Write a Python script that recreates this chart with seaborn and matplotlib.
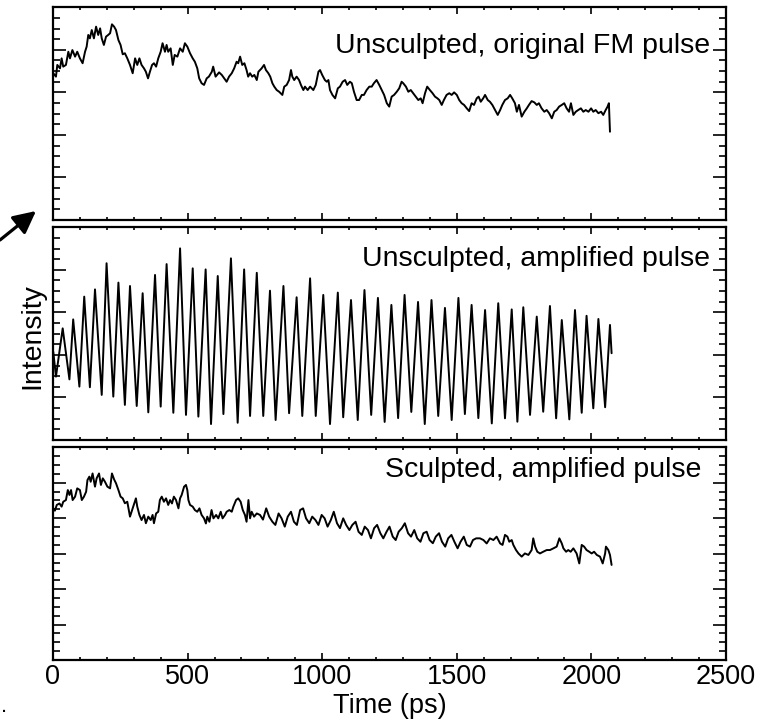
import matplotlib
matplotlib.use('Agg')
import numpy as np
import pandas as pd
import matplotlib.pyplot as plt
from matplotlib.ticker import MultipleLocator, FixedLocator, NullFormatter
import seaborn as sns

# --
# Data (time in ps, intensity in arbitrary units)

top_t = [1, 11, 16, 26, 32, 38, 48, 57, 63, 72,
         82, 90, 100, 110, 119, 125, 131, 137, 144, 152,
         160, 168, 175, 181, 189, 197, 205, 212, 219, 227,
         234, 243, 251, 259, 267, 276, 286, 296, 305, 313,
         321, 329, 338, 345, 353, 360, 368, 375, 383, 391,
         400, 407, 416, 422, 428, 437, 445, 452, 462, 472,
         482, 490, 499, 509, 519, 527, 536, 543, 552, 561,
         571, 579, 590, 595, 604, 617, 627, 636, 645, 654,
         664, 673, 682, 688, 695, 703, 711, 719, 725, 732,
         740, 748, 757, 763, 769, 775, 784, 791, 800, 807,
         815, 822, 831, 840, 852, 859, 868, 877, 884, 889,
         896, 905, 914, 921, 930, 936, 946, 955, 967, 976,
         986, 992, 1000, 1010, 1017, 1023, 1029, 1038, 1048, 1058,
         1066, 1076, 1085, 1093, 1103, 1110, 1118, 1128, 1137, 1147,
         1155, 1165, 1175, 1184, 1192, 1202, 1212, 1221, 1230, 1240,
         1249, 1258, 1267, 1277, 1286, 1295, 1301, 1311, 1320, 1329,
         1338, 1348, 1357, 1366, 1373, 1382, 1390, 1400, 1410, 1419,
         1428, 1435, 1444, 1452, 1462, 1472, 1481, 1490, 1500, 1509,
         1518, 1527, 1537, 1546, 1555, 1564, 1574, 1581, 1589, 1598,
         1605, 1615, 1623, 1632, 1642, 1652, 1661, 1669, 1679, 1689,
         1698, 1706, 1716, 1723, 1731, 1741, 1751, 1760, 1768, 1778,
         1788, 1797, 1805, 1815, 1825, 1834, 1843, 1853, 1862, 1871,
         1880, 1890, 1899, 1908, 1917, 1924, 1933, 1942, 1951, 1961,
         1970, 1979, 1989, 1999, 2007, 2016, 2026, 2036, 2044, 2053,
         2060, 2065, 2069]
top_i = [69.0, 67.4, 72.9, 71.3, 76.0, 72.1, 72.9, 79.1, 76.0, 79.9,
         76.8, 79.1, 76.0, 73.7, 79.1, 81.5, 87.0, 85.4, 89.3, 85.4,
         90.9, 87.0, 90.1, 85.4, 82.3, 86.2, 87.0, 87.8, 92.0, 90.9,
         89.3, 84.6, 82.3, 77.9, 78.4, 76.0, 72.9, 69.0, 76.0, 72.9,
         76.0, 72.9, 71.3, 69.7, 66.6, 69.7, 72.9, 73.7, 72.1, 76.0,
         79.1, 83.1, 79.1, 82.3, 79.1, 80.7, 72.9, 77.6, 76.8, 80.7,
         79.1, 83.1, 81.5, 78.4, 76.0, 74.4, 71.3, 66.6, 64.3, 63.5,
         66.6, 67.4, 69.7, 72.1, 67.4, 69.4, 68.2, 66.6, 65.0, 67.4,
         69.0, 71.3, 74.4, 73.7, 76.8, 72.9, 73.7, 70.5, 67.4, 69.0,
         67.4, 68.2, 65.8, 69.7, 70.5, 71.3, 72.9, 70.5, 69.0, 67.4,
         64.3, 62.7, 61.1, 60.3, 58.8, 62.7, 63.5, 65.8, 70.5, 67.4,
         65.8, 67.4, 65.8, 63.5, 61.1, 62.7, 61.1, 62.7, 61.1, 63.5,
         69.7, 70.5, 68.2, 65.8, 65.0, 65.8, 61.1, 58.8, 57.2, 61.9,
         62.7, 65.0, 65.8, 63.5, 65.0, 64.3, 60.3, 56.4, 56.4, 58.8,
         58.8, 61.1, 62.7, 62.7, 64.3, 65.8, 63.5, 61.1, 58.8, 54.9,
         53.3, 58.0, 58.8, 60.3, 61.9, 65.0, 64.3, 62.7, 60.3, 61.1,
         59.6, 58.0, 56.4, 57.2, 54.9, 59.6, 62.7, 61.1, 59.6, 58.0,
         57.2, 56.4, 54.1, 56.4, 58.8, 59.6, 58.8, 60.0, 58.8, 56.4,
         54.9, 54.1, 52.5, 51.2, 54.9, 54.1, 57.2, 58.0, 55.6, 57.2,
         58.8, 56.4, 55.6, 54.1, 51.7, 49.4, 51.7, 54.1, 56.4, 57.2,
         58.8, 57.2, 54.9, 50.9, 54.1, 48.6, 50.9, 52.5, 54.1, 55.9,
         55.3, 54.1, 54.9, 52.5, 50.9, 51.7, 50.2, 47.8, 50.9, 51.7,
         53.3, 54.1, 54.9, 52.5, 50.9, 54.9, 49.4, 50.9, 51.7, 52.5,
         50.9, 51.7, 50.9, 52.5, 50.9, 51.7, 50.2, 50.9, 49.4, 51.7,
         53.3, 54.9, 41.5]

# amplified pulse: successive peaks and troughs of the beating
mid_t = [1, 11, 36, 61, 75, 98, 116, 137, 156, 181,
         199, 224, 243, 267, 286, 311, 333, 354, 379, 400,
         422, 447, 472, 494, 519, 540, 567, 587, 612, 633,
         661, 686, 710, 732, 757, 781, 806, 827, 856, 877,
         905, 926, 955, 976, 1004, 1029, 1058, 1078, 1107, 1132,
         1157, 1182, 1207, 1232, 1257, 1282, 1306, 1331, 1356, 1381,
         1406, 1431, 1456, 1481, 1506, 1530, 1555, 1580, 1605, 1630,
         1654, 1679, 1704, 1725, 1747, 1772, 1797, 1821, 1846, 1869,
         1890, 1918, 1939, 1964, 1982, 2007, 2026, 2051, 2069, 2075]
mid_i = [41.5, 29.8, 52.5, 28.5, 56.7, 25.1, 67.4, 24.8, 70.8, 21.2,
         83.1, 20.4, 74.0, 16.5, 72.4, 16.0, 69.0, 13.0, 77.6, 15.7,
         82.7, 12.8, 90.1, 11.8, 80.7, 11.0, 80.2, 7.5, 77.1, 12.2,
         85.4, 8.1, 80.2, 11.3, 78.6, 11.3, 70.2, 9.4, 72.4, 12.6,
         67.1, 11.3, 76.0, 11.3, 68.2, 7.5, 69.3, 10.7, 65.8, 9.4,
         70.5, 11.8, 66.8, 8.5, 63.5, 10.3, 68.2, 13.2, 64.9, 7.5,
         65.8, 11.3, 62.1, 9.4, 66.8, 12.2, 63.5, 10.3, 61.1, 7.8,
         64.3, 10.2, 61.4, 8.6, 62.4, 11.8, 58.0, 13.3, 63.0, 10.2,
         56.4, 9.7, 61.1, 12.8, 58.4, 14.9, 56.9, 15.4, 54.1, 40.8]

bot_t = [1, 7, 14, 24, 32, 38, 48, 55, 61, 67,
         73, 82, 90, 100, 107, 115, 123, 128, 135, 140,
         147, 156, 162, 171, 178, 185, 193, 202, 212, 219,
         227, 234, 243, 251, 259, 267, 276, 286, 292, 298,
         308, 313, 321, 329, 338, 345, 354, 363, 370, 375,
         383, 391, 397, 404, 412, 420, 428, 435, 442, 449,
         457, 466, 472, 478, 487, 494, 499, 503, 509, 519,
         527, 536, 544, 552, 561, 568, 573, 581, 589, 596,
         606, 614, 623, 630, 639, 645, 655, 664, 670, 680,
         688, 697, 705, 713, 719, 726, 732, 738, 747, 757,
         769, 780, 792, 803, 815, 826, 838, 849, 861, 872,
         884, 895, 906, 918, 929, 940, 952, 963, 975, 986,
         998, 1009, 1020, 1032, 1043, 1055, 1066, 1078, 1089, 1101,
         1112, 1124, 1135, 1147, 1158, 1170, 1181, 1193, 1204, 1216,
         1227, 1239, 1250, 1262, 1273, 1284, 1296, 1307, 1319, 1330,
         1342, 1353, 1365, 1376, 1388, 1399, 1411, 1422, 1434, 1445,
         1457, 1468, 1480, 1491, 1503, 1514, 1526, 1537, 1549, 1560,
         1572, 1586, 1599, 1611, 1623, 1636, 1648, 1661, 1670, 1679,
         1688, 1695, 1704, 1710, 1720, 1729, 1741, 1753, 1766, 1778,
         1784, 1791, 1799, 1809, 1821, 1834, 1846, 1859, 1871, 1881,
         1890, 1896, 1906, 1914, 1923, 1933, 1945, 1955, 1964, 1973,
         1982, 1992, 2001, 2010, 2020, 2032, 2042, 2051, 2054, 2063,
         2069, 2075]
bot_i = [71.3, 70.2, 72.9, 73.6, 72.1, 74.4, 75.2, 79.9, 77.6, 79.9,
         75.2, 76.8, 80.7, 79.9, 75.2, 76.8, 79.1, 84.6, 86.2, 83.8,
         87.7, 81.5, 85.4, 87.7, 82.3, 85.4, 83.8, 81.5, 80.7, 87.7,
         84.9, 83.1, 79.9, 76.8, 76.0, 73.7, 74.4, 67.4, 69.7, 72.1,
         76.0, 72.1, 68.2, 65.8, 68.2, 64.3, 67.4, 65.8, 68.2, 64.3,
         68.9, 69.7, 75.2, 76.8, 74.4, 76.0, 72.9, 75.2, 73.6, 76.8,
         75.2, 71.3, 76.0, 77.6, 81.5, 82.3, 79.9, 75.2, 72.9, 72.1,
         70.5, 69.7, 71.3, 68.2, 66.6, 64.2, 67.4, 65.0, 70.5, 66.6,
         68.2, 66.6, 69.7, 66.6, 68.2, 69.7, 70.5, 69.7, 72.1, 75.2,
         76.0, 74.4, 70.5, 68.2, 65.0, 75.2, 66.6, 69.7, 67.4, 68.9,
         68.2, 66.0, 71.3, 67.4, 65.0, 63.5, 68.9, 66.6, 62.7, 67.4,
         69.7, 65.0, 63.5, 70.5, 71.3, 66.6, 64.3, 67.4, 65.8, 63.5,
         68.2, 66.6, 62.7, 65.8, 69.7, 64.3, 62.0, 66.6, 63.5, 61.1,
         63.5, 65.0, 60.3, 58.8, 62.7, 61.1, 57.2, 62.0, 63.5, 59.6,
         57.2, 60.3, 62.7, 58.0, 56.4, 60.3, 62.0, 64.3, 59.6, 58.0,
         61.1, 57.2, 55.6, 59.6, 60.3, 56.4, 54.9, 58.0, 59.6, 55.6,
         53.3, 57.2, 58.8, 55.6, 52.5, 55.6, 58.0, 54.1, 53.3, 56.4,
         57.2, 57.2, 56.4, 54.8, 57.2, 56.4, 58.0, 54.8, 54.1, 58.8,
         58.0, 55.6, 56.4, 54.1, 51.7, 50.1, 48.6, 50.1, 49.4, 51.7,
         57.2, 53.3, 50.9, 50.1, 50.9, 51.7, 51.7, 52.5, 53.3, 57.2,
         54.8, 52.5, 50.9, 51.7, 50.9, 52.5, 50.1, 45.4, 54.1, 53.3,
         51.7, 50.9, 50.1, 50.9, 49.4, 48.6, 45.4, 50.1, 53.3, 51.7,
         49.4, 44.7]

panel_labels = ["Unsculpted, original FM pulse",
                "Unsculpted, amplified pulse",
                "Sculpted, amplified pulse"]
xticks = [0, 500, 1000, 1500, 2000, 2500]

# --
# Style

sns.set_style('ticks', {'text.color': 'black', 'axes.labelcolor': 'black',
                        'xtick.color': 'black', 'ytick.color': 'black',
                        'axes.edgecolor': 'black'})
plt.rcParams['font.family'] = ['Liberation Sans', 'DejaVu Sans']

fig = plt.figure(figsize=(7.8, 7.22), dpi=100)

W, H = 780.0, 722.0
left, width, height = 53 / W, 673 / W, 212.7 / H
bottoms = [1 - 220 / H, 1 - 440 / H, 1 - 660 / H]
label_pos = [(0.977, 0.816), (0.976, 0.851), (0.964, 0.893)]
traces = [(top_t, top_i), (mid_t, mid_i), (bot_t, bot_i)]

axes = []
for k, (tt, ii) in enumerate(traces):
    ax = fig.add_axes([left, bottoms[k], width, height])
    df = pd.DataFrame({'t': tt, 'I': ii})
    sns.lineplot(data=df, x='t', y='I', ax=ax, color='black', lw=1.4,
                 estimator=None, sort=False)
    ax.set_xlim(0, 2500)
    ax.set_ylim(0, 100)
    ax.set_xlabel('')
    ax.set_ylabel('')

    ax.xaxis.set_major_locator(FixedLocator(xticks))
    ax.xaxis.set_minor_locator(MultipleLocator(100))
    if k < 2:
        ax.yaxis.set_major_locator(MultipleLocator(20))
        ax.yaxis.set_minor_locator(MultipleLocator(5))
    else:
        ax.yaxis.set_major_locator(FixedLocator(np.linspace(0, 100, 7)))
        ax.yaxis.set_minor_locator(FixedLocator(np.linspace(0, 100, 25)))
    ax.yaxis.set_major_formatter(NullFormatter())

    ax.tick_params(axis='both', which='both', direction='in',
                   top=True, right=True, width=1.2, color='black')
    ax.tick_params(axis='y', which='major', length=9.5)
    ax.tick_params(axis='y', which='minor', length=5)
    ax.tick_params(axis='x', which='major', length=5)
    ax.tick_params(axis='x', which='minor', length=2.5)
    if k < 2:
        ax.xaxis.set_major_formatter(NullFormatter())
    else:
        ax.tick_params(axis='x', which='major', labelsize=19.5, pad=3,
                       labelcolor='black')

    for s in ax.spines.values():
        s.set_linewidth(1.6)
        s.set_color('black')

    ax.text(label_pos[k][0], label_pos[k][1], panel_labels[k],
            transform=ax.transAxes, ha='right', va='center',
            fontsize=20.5, color='black')
    axes.append(ax)

# axis labels
axes[2].set_xlabel('Time (ps)', fontsize=19.5, color='black')
axes[2].xaxis.set_label_coords(0.5, -0.216)
axes[2].xaxis.label.set_va('center')
fig.text(32 / W, 1 - 336 / H, 'Intensity', rotation=90, ha='center',
         va='center', fontsize=20.5, color='black')

# arrow in the left margin, and the stray dot
axes[0].annotate('', xy=(36 / W, 1 - 211 / H), xytext=(0.0, 1 - 240 / H),
                 xycoords='figure fraction', textcoords='figure fraction',
                 arrowprops=dict(arrowstyle='-|>', mutation_scale=34,
                                 lw=2.3, color='black', shrinkA=0,
                                 shrinkB=0),
                 annotation_clip=False)
fig.text(0.001, 1 - 712 / H, '.', fontsize=16, va='baseline', color='black')

fig.savefig('out.png', dpi=100)
